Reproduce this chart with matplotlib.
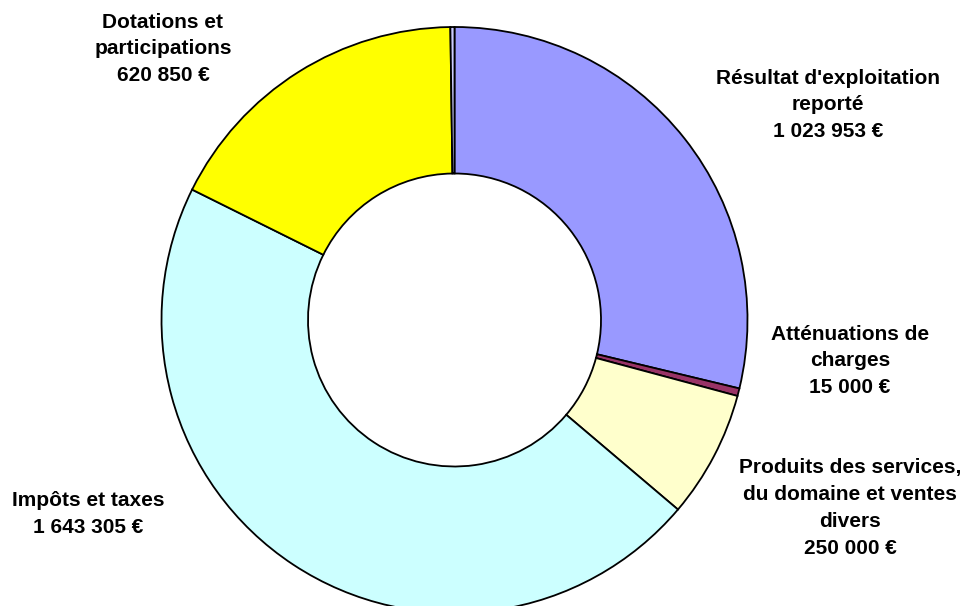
import numpy as np
import matplotlib.pyplot as plt

# Budget recettes de fonctionnement (donut)
labels = ["Résultat d'exploitation\nreporté", "Atténuations de\ncharges",
          "Produits des services,\ndu domaine et ventes\ndivers", "Impôts et taxes",
          "Dotations et\nparticipations", ""]
values = [1023953, 15000, 250000, 1643305, 620850, 8000]
colors = ["#9999FF", "#993366", "#FFFFCC", "#CCFFFF", "#FFFF00", "#CCCCFF"]

# label block centers (pixel coords, y from bottom)
label_x = [828, 850, 850, 88, 163]
label_y = [501, 245, 98, 92, 557]

plt.rcParams['font.family'] = ['Liberation Sans', 'DejaVu Sans']

fig = plt.figure(figsize=(9.71, 6.06), dpi=100)
ax = fig.add_axes([0, 0, 1, 1])

ax.pie(values, colors=colors, startangle=90, counterclock=False,
       center=(454.5, 286), radius=293,
       wedgeprops=dict(width=293 - 146.5, edgecolor='black', linewidth=1.3))

ax.set_xlim(0, 971)
ax.set_ylim(0, 606)
ax.set_aspect('equal')
ax.axis('off')

def fmt(v):
    return f"{v:,}".replace(",", " ") + " €"

for i in range(5):
    ax.text(label_x[i], label_y[i], labels[i] + "\n" + fmt(values[i]),
            ha='center', va='center', fontsize=15, fontweight='bold',
            linespacing=1.52, multialignment='center')

fig.savefig('out.png', dpi=100)
